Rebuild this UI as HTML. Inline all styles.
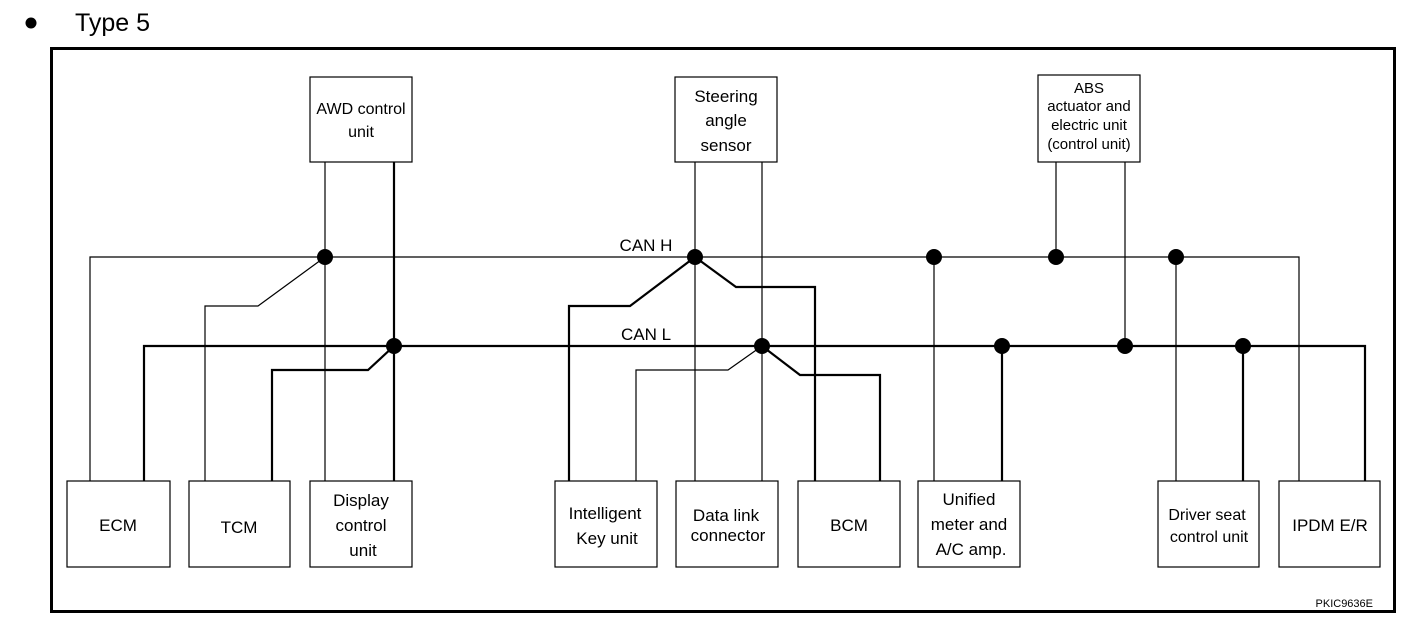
<!DOCTYPE html>
<html><head><style>
body{margin:0;background:#fff;}
svg{display:block;font-family:"Liberation Sans",Arial,sans-serif;}
</style></head><body>
<svg width="1408" height="626" viewBox="0 0 1408 626">
<circle cx="31" cy="23" r="5.5" fill="#000"/>
<text x="75" y="31" font-size="25">Type 5</text>
<rect x="51.5" y="48.5" width="1343" height="563" fill="none" stroke="#000" stroke-width="3"/>
<g fill="none" stroke="#000" stroke-width="1.2">
<rect x="310" y="77" width="102" height="85"/>
<rect x="675" y="77" width="102" height="85"/>
<rect x="1038" y="75" width="102" height="87"/>
<rect x="67" y="481" width="103" height="86"/>
<rect x="189" y="481" width="101" height="86"/>
<rect x="310" y="481" width="102" height="86"/>
<rect x="555" y="481" width="102" height="86"/>
<rect x="676" y="481" width="102" height="86"/>
<rect x="798" y="481" width="102" height="86"/>
<rect x="918" y="481" width="102" height="86"/>
<rect x="1158" y="481" width="101" height="86"/>
<rect x="1279" y="481" width="101" height="86"/>
</g>
<g fill="none" stroke="#000" stroke-width="1.2">
<polyline points="90,481 90,257 1299,257 1299,481"/>
<line x1="325" y1="162" x2="325" y2="481"/>
<polyline points="205,481 205,306 258,306 325,257"/>
<line x1="695" y1="162" x2="695" y2="481"/>
<line x1="762" y1="162" x2="762" y2="481"/>
<polyline points="636,481 636,370 728,370 762,346"/>
<line x1="934" y1="257" x2="934" y2="481"/>
<line x1="1056" y1="162" x2="1056" y2="257"/>
<line x1="1125" y1="162" x2="1125" y2="346"/>
<line x1="1176" y1="257" x2="1176" y2="481"/>
</g>
<g fill="none" stroke="#000" stroke-width="2.2">
<polyline points="144,481 144,346 1365,346 1365,481"/>
<line x1="394" y1="162" x2="394" y2="481"/>
<polyline points="272,481 272,370 368,370 394,346"/>
<polyline points="569,481 569,306 630,306 695,257"/>
<polyline points="695,257 736,287 815,287 815,481"/>
<polyline points="762,346 800,375 880,375 880,481"/>
<line x1="1002" y1="346" x2="1002" y2="481"/>
<line x1="1243" y1="346" x2="1243" y2="481"/>
</g>
<g fill="#000">
<circle cx="325" cy="257" r="8"/><circle cx="695" cy="257" r="8"/><circle cx="934" cy="257" r="8"/><circle cx="1056" cy="257" r="8"/><circle cx="1176" cy="257" r="8"/>
<circle cx="394" cy="346" r="8"/><circle cx="762" cy="346" r="8"/><circle cx="1002" cy="346" r="8"/><circle cx="1125" cy="346" r="8"/><circle cx="1243" cy="346" r="8"/>
</g>
<g font-size="17" text-anchor="middle">
<text x="646" y="251">CAN H</text>
<text x="646" y="340">CAN L</text>
<text x="361" y="114" font-size="16">AWD control</text>
<text x="361" y="137" font-size="16">unit</text>
<text x="726" y="102">Steering</text>
<text x="726" y="126">angle</text>
<text x="726" y="151">sensor</text>
<text x="1089" y="93" font-size="15">ABS</text>
<text x="1089" y="111" font-size="15">actuator and</text>
<text x="1089" y="130" font-size="15">electric unit</text>
<text x="1089" y="149" font-size="15">(control unit)</text>
<text x="118" y="531">ECM</text>
<text x="239" y="533">TCM</text>
<text x="361" y="506">Display</text>
<text x="361" y="531">control</text>
<text x="363" y="556">unit</text>
<text x="605" y="519">Intelligent</text>
<text x="607" y="544">Key unit</text>
<text x="726" y="521">Data link</text>
<text x="728" y="541">connector</text>
<text x="849" y="531">BCM</text>
<text x="969" y="505">Unified</text>
<text x="969" y="530">meter and</text>
<text x="971" y="555">A/C amp.</text>
<text x="1207" y="520" font-size="16">Driver seat</text>
<text x="1209" y="542" font-size="16">control unit</text>
<text x="1330" y="531">IPDM E/R</text>
</g>
<text x="1373" y="607" font-size="11" text-anchor="end">PKIC9636E</text>
</svg>
</body></html>
